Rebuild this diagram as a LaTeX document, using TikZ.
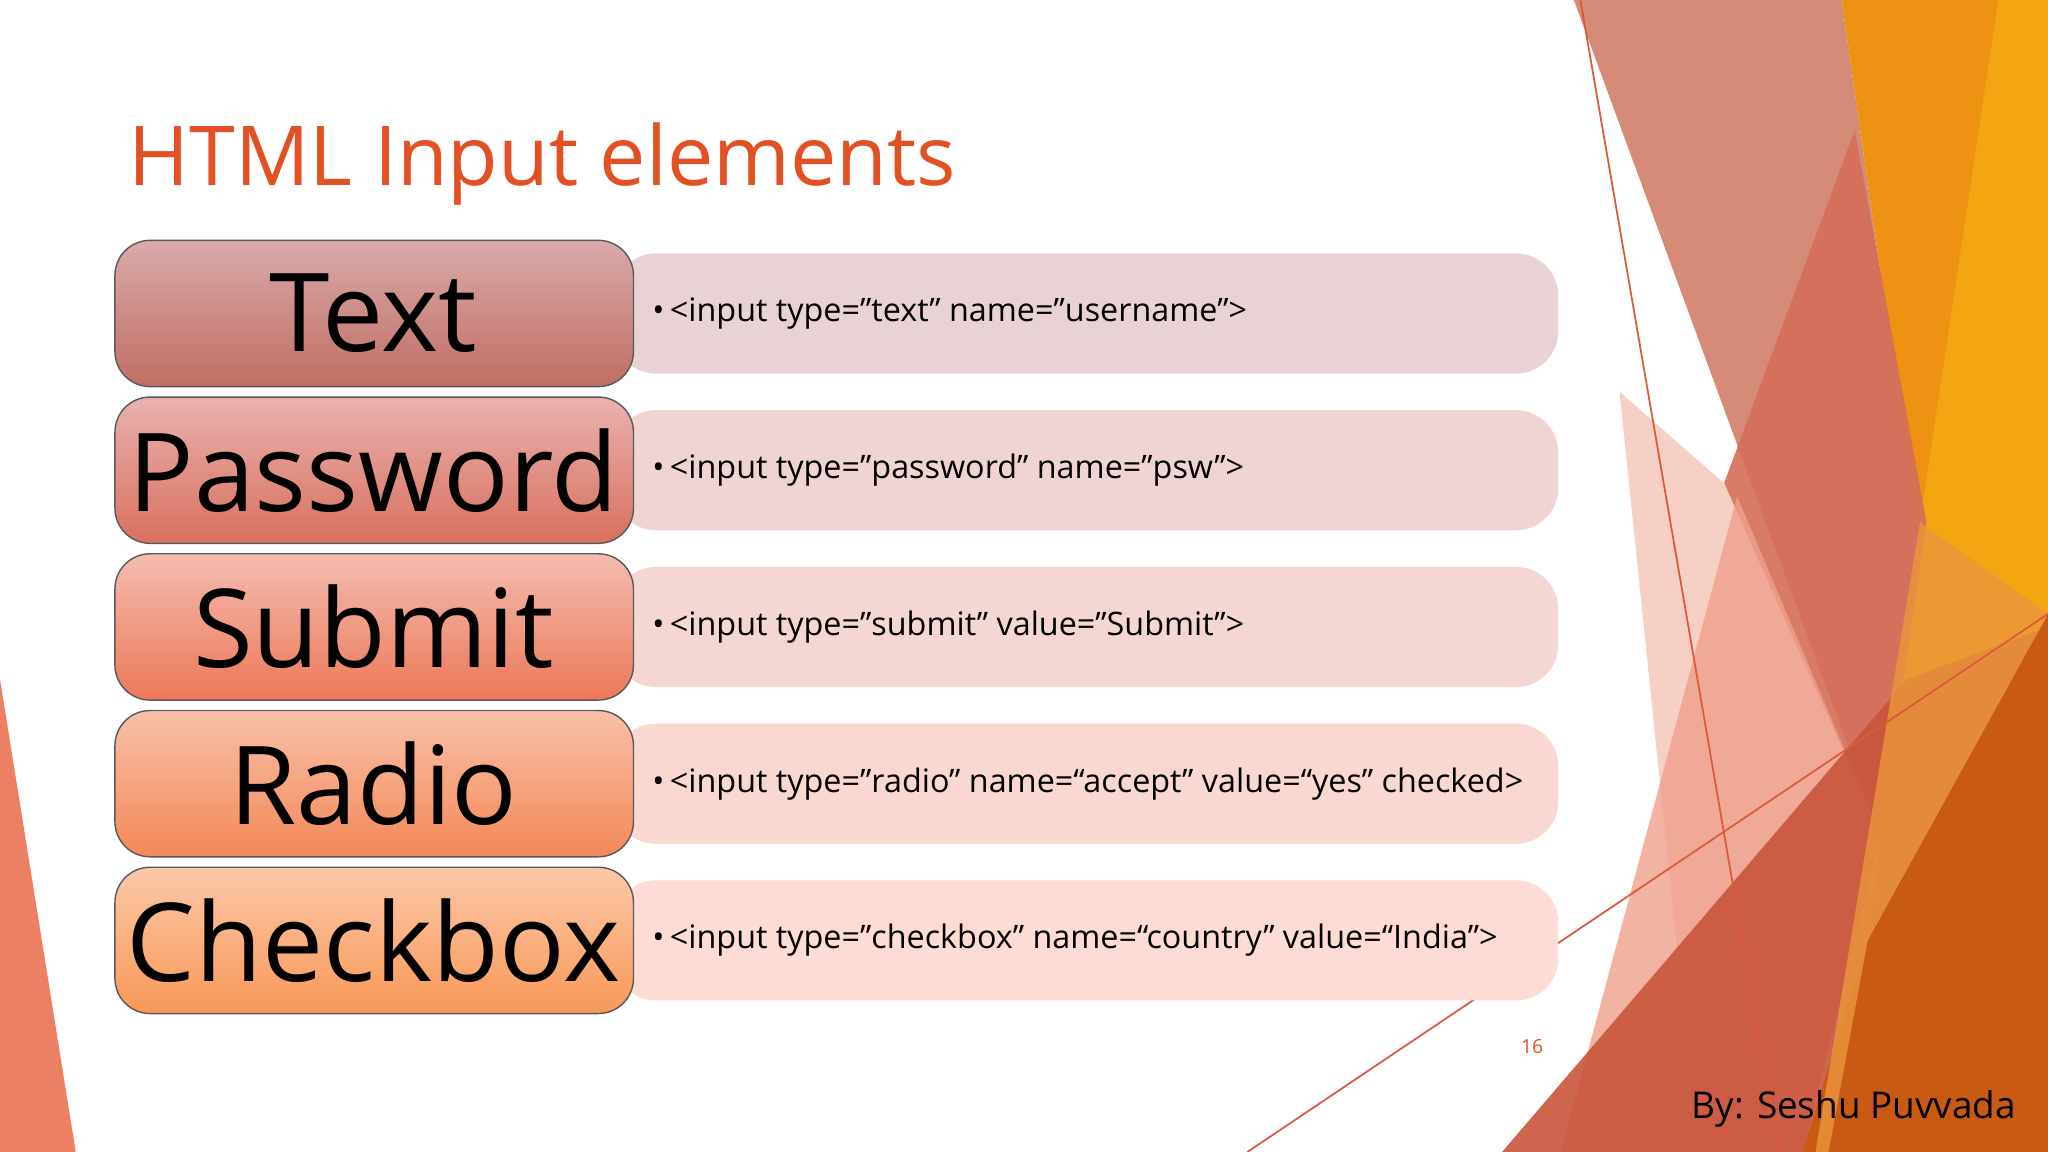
\documentclass[tikz,border=0pt]{standalone}
\usepackage{fontspec}
\setmainfont{Open Sans}
\begin{document}
\begin{tikzpicture}[x=0.013061cm,y=-0.013061cm,
  lbox/.style={draw=gray!70!black,line width=0.4pt,rounded corners=10pt},
  rbox/.style={rounded corners=12pt},
  lbl/.style={font=\fontsize{31}{34}\selectfont,text=black},
  code/.style={font=\fontsize{9.2}{11}\selectfont,anchor=west,text=black}]
\useasboundingbox (0,0) rectangle (1568,882);
\fill[white] (0,0) rectangle (1568,882);
% decorations right
\fill[fill={rgb,255:red,214;green,138;blue,120}] (1205,0)--(1410,0)--(1470,420)--(1440,640)--cycle;
\fill[fill={rgb,255:red,238;green,146;blue,20}] (1410,0)--(1568,0)--(1568,500)--(1470,420)--cycle;
\fill[fill={rgb,255:red,243;green,165;blue,18}] (1530,0)--(1568,0)--(1568,470)--(1430,720)--(1470,400)--cycle;
\fill[fill={rgb,255:red,212;green,110;blue,88},opacity=0.9] (1420,100)--(1475,400)--(1440,640)--(1320,370)--cycle;
\fill[fill={rgb,255:red,246;green,208;blue,196}] (1240,300)--(1320,370)--(1440,640)--(1380,882)--(1300,882)--cycle;
\fill[fill={rgb,255:red,240;green,160;blue,140},opacity=0.8] (1330,380)--(1440,640)--(1380,882)--(1195,882)--cycle;
\fill[fill={rgb,255:red,200;green,85;blue,60},opacity=0.9] (1150,882)--(1460,520)--(1568,480)--(1568,882)--cycle;
\fill[fill={rgb,255:red,200;green,90;blue,20}] (1568,470)--(1568,882)--(1380,882)--(1430,720)--cycle;
\fill[fill={rgb,255:red,235;green,150;blue,60},opacity=0.8] (1470,400)--(1568,470)--(1430,720)--(1400,882)--(1390,882)--cycle;
\draw[color={rgb,255:red,220;green,90;blue,60},line width=0.5pt] (1210,0)--(1362,882);
\draw[color={rgb,255:red,220;green,90;blue,60},line width=0.5pt] (955,882)--(1568,470);
% left triangle
\fill[fill={rgb,255:red,236;green,128;blue,100}] (0,520)--(58,882)--(0,882)--cycle;
% title
\node[anchor=base west,inner sep=0,text={rgb,255:red,226;green,80;blue,36},font=\fontsize{23.5}{26}\selectfont] (title) at (98,142) {HTML Input elements};
% right boxes
\fill[rbox,fill={rgb,255:red,232;green,210;blue,212}] (470,194) rectangle (1193,286);
\fill[rbox,fill={rgb,255:red,240;green,212;blue,212}] (470,314) rectangle (1193,406);
\fill[rbox,fill={rgb,255:red,244;green,214;blue,210}] (470,434) rectangle (1193,526);
\fill[rbox,fill={rgb,255:red,248;green,216;blue,208}] (470,554) rectangle (1193,646);
\fill[rbox,fill={rgb,255:red,252;green,220;blue,212}] (470,674) rectangle (1193,766);
% left boxes
\shade[lbox,top color={rgb,255:red,218;green,170;blue,170},bottom color={rgb,255:red,192;green,110;blue,100}] (88,184) rectangle (485,296);
\shade[lbox,top color={rgb,255:red,234;green,178;blue,176},bottom color={rgb,255:red,216;green,112;blue,94}] (88,304) rectangle (485,416);
\shade[lbox,top color={rgb,255:red,244;green,188;blue,176},bottom color={rgb,255:red,236;green,120;blue,88}] (88,424) rectangle (485,536);
\shade[lbox,top color={rgb,255:red,248;green,192;blue,168},bottom color={rgb,255:red,244;green,136;blue,88}] (88,544) rectangle (485,656);
\shade[lbox,top color={rgb,255:red,252;green,200;blue,168},bottom color={rgb,255:red,248;green,152;blue,88}] (88,664) rectangle (485,776);
\node[lbl] (t1) at (286,240) {Text};
\node[lbl] (t2) at (286,360) {Password};
\node[lbl] (t3) at (286,480) {Submit};
\node[lbl] (t4) at (286,600) {Radio};
\node[lbl] (t5) at (286,720) {Checkbox};
\node[code] (c1) at (490,240) {•\,<input type="text" name="username">};
\node[code] (c2) at (490,360) {•\,<input type="password" name="psw">};
\node[code] (c3) at (490,480) {•\,<input type="submit" value="Submit">};
\node[code] (c4) at (490,600) {•\,<input type="radio" name=“accept" value=“yes" checked>};
\node[code] (c5) at (490,720) {•\,<input type="checkbox" name=“country" value=“India">};
\node[font=\fontsize{5.5}{6}\selectfont,text={rgb,255:red,226;green,80;blue,36}] (pg) at (1173,801) {16};
\node[anchor=east,font=\fontsize{10.5}{12}\selectfont] (by) at (1553,849) {By: Seshu Puvvada};
\end{tikzpicture}
\end{document}
